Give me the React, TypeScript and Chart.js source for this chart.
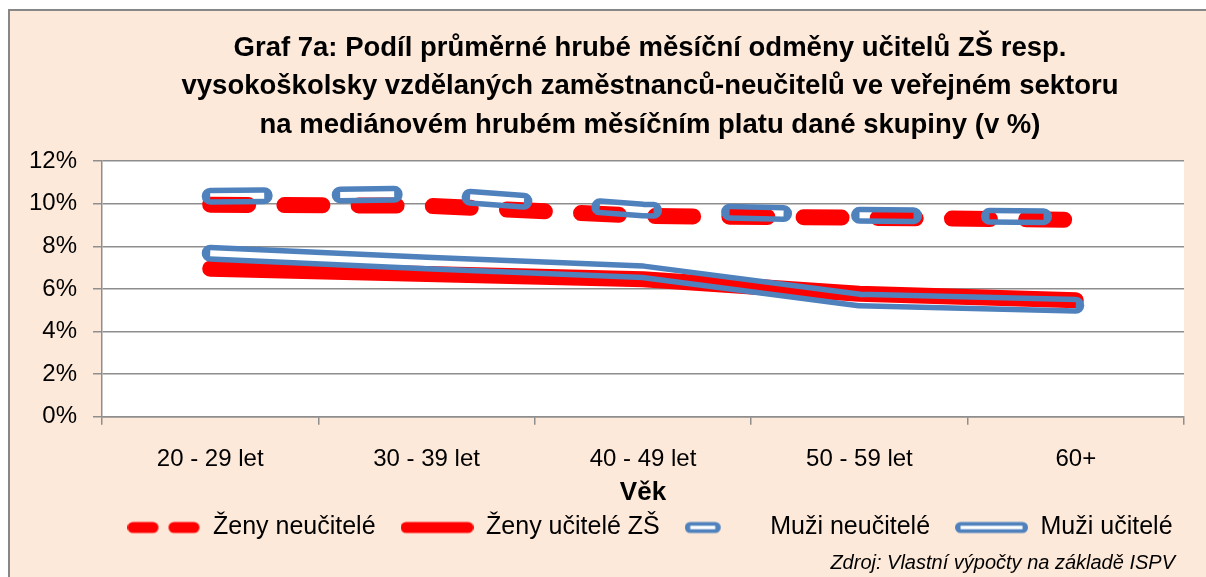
import React, { useEffect, useRef } from 'react';
import { Chart, registerables } from 'chart.js';

Chart.register(...registerables);

// ---------- data ----------
const categories = ['20 - 29 let', '30 - 39 let', '40 - 49 let', '50 - 59 let', '60+'];
const zenyNeucitele = [9.95, 9.9, 9.42, 9.34, 9.24];
const zenyUciteleZS = [6.95, 6.7, 6.45, 5.77, 5.47];
const muziNeucitele = [10.35, 10.45, 9.7, 9.45, 9.38];
const muziUcitele = [7.67, 7.22, 6.8, 5.48, 5.23];
const seriesNames = ['Ženy neučitelé', 'Ženy učitelé ZŠ', 'Muži neučitelé', 'Muži učitelé'];
const yMin = 0;
const yMax = 12;
const yStep = 2;
const titleLines = [
  'Graf 7a: Podíl průměrné hrubé měsíční odměny učitelů ZŠ resp.',
  'vysokoškolsky vzdělaných zaměstnanců-neučitelů ve veřejném sektoru',
  'na mediánovém hrubém měsíčním platu dané skupiny (v %)',
];
const xAxisTitle = 'Věk';
const sourceNote = 'Zdroj: Vlastní výpočty na základě ISPV';

// ---------- styles ----------
const RED = '#FF0000';
const BLUE = '#4F81BD';
const GRID = '#8E8E8E';
const BG = '#FDE9D9';
const FONT = "'Liberation Sans', Arial, sans-serif";
const CANVAS_W = 1280;
const CANVAS_H = 566;

function makeSwatch(color: string, dash: number[], double: boolean) {
  const c = document.createElement('canvas');
  c.width = 73;
  c.height = 20;
  const g = c.getContext('2d')!;
  g.lineCap = 'round';
  g.strokeStyle = color;
  g.lineWidth = 11;
  g.setLineDash(dash);
  g.beginPath();
  g.moveTo(5.5, 10);
  g.lineTo(67.5, 10);
  g.stroke();
  if (double) {
    g.lineCap = 'butt';
    g.strokeStyle = '#FFFFFF';
    g.lineWidth = 3.5;
    g.beginPath();
    g.moveTo(5.5, 10);
    g.lineTo(67.5, 10);
    g.stroke();
  }
  return c;
}

const plotBgPlugin = {
  id: 'plotBg',
  beforeDraw(chart: any) {
    const { ctx, chartArea } = chart;
    ctx.save();
    ctx.fillStyle = '#FFFFFF';
    ctx.fillRect(chartArea.left, chartArea.top, chartArea.right - chartArea.left, chartArea.bottom - chartArea.top);
    ctx.restore();
  },
};

const doubleLinePlugin = {
  id: 'doubleLine',
  afterDatasetsDraw(chart: any) {
    const { ctx } = chart;
    chart.data.datasets.forEach((ds: any, i: number) => {
      const dl = ds.doubleLine;
      if (!dl || !chart.isDatasetVisible(i)) return;
      const meta = chart.getDatasetMeta(i);
      const pts = meta.data.map((p: any) => ({ x: p.x, y: p.y }));
      const off = document.createElement('canvas');
      off.width = chart.canvas.width;
      off.height = chart.canvas.height;
      const o = off.getContext('2d')!;
      const r = chart.currentDevicePixelRatio || 1;
      o.setTransform(r, 0, 0, r, 0, 0);
      const path = () => {
        o.beginPath();
        pts.forEach((p: any, k: number) => (k ? o.lineTo(p.x, p.y) : o.moveTo(p.x, p.y)));
      };
      o.lineJoin = 'round';
      o.lineCap = 'round';
      o.setLineDash(dl.dash);
      o.strokeStyle = ds.borderColor;
      o.lineWidth = dl.outer;
      path();
      o.stroke();
      o.globalCompositeOperation = 'destination-out';
      o.lineCap = 'butt';
      o.lineWidth = dl.inner;
      path();
      o.stroke();
      ctx.save();
      ctx.setTransform(1, 0, 0, 1, 0, 0);
      ctx.drawImage(off, 0, 0);
      ctx.restore();
    });
  },
};

export default function App() {
  const canvasRef = useRef<HTMLCanvasElement | null>(null);

  useEffect(() => {
    if (!canvasRef.current) return;
    const swatches = [
      makeSwatch(RED, [20, 21], false),
      makeSwatch(RED, [], false),
      makeSwatch(BLUE, [25, 100], true),
      makeSwatch(BLUE, [], true),
    ];
    const chart = new Chart(canvasRef.current, {
      type: 'line',
      data: {
        labels: categories,
        datasets: [
          {
            label: seriesNames[0],
            data: zenyNeucitele,
            borderColor: RED,
            backgroundColor: RED,
            borderWidth: 16,
            borderDash: [38, 36.2],
            borderCapStyle: 'round',
            borderJoinStyle: 'round',
            pointRadius: 0,
            fill: false,
            tension: 0,
          },
          {
            label: seriesNames[1],
            data: zenyUciteleZS,
            borderColor: RED,
            backgroundColor: RED,
            borderWidth: 16,
            borderCapStyle: 'round',
            borderJoinStyle: 'round',
            pointRadius: 0,
            fill: false,
            tension: 0,
          },
          {
            label: seriesNames[2],
            data: muziNeucitele,
            borderColor: BLUE,
            backgroundColor: BLUE,
            showLine: false,
            pointRadius: 0,
            fill: false,
            doubleLine: { outer: 17, inner: 6, dash: [54, 76] },
          } as any,
          {
            label: seriesNames[3],
            data: muziUcitele,
            borderColor: BLUE,
            backgroundColor: BLUE,
            showLine: false,
            pointRadius: 0,
            fill: false,
            doubleLine: { outer: 17, inner: 6, dash: [] },
          } as any,
        ],
      },
      options: {
        responsive: false,
        animation: false,
        layout: { padding: { left: 0, right: 0, top: 0, bottom: 27 } },
        font: { family: FONT },
        plugins: {
          title: {
            display: true,
            text: titleLines,
            color: '#000000',
            font: { family: FONT, size: 27.5, weight: 'bold', lineHeight: 1.4 },
            padding: { top: 17.75, bottom: 16.75 },
          },
          legend: {
            display: true,
            position: 'bottom',
            labels: {
              usePointStyle: true,
              pointStyleWidth: 73,
              padding: 25,
              color: '#000000',
              font: { family: FONT, size: 25 },
              generateLabels: (ch: any) =>
                ch.data.datasets.map((ds: any, i: number) => ({
                  text: ds.label,
                  pointStyle: swatches[i],
                  fillStyle: 'rgba(0,0,0,0)',
                  strokeStyle: 'rgba(0,0,0,0)',
                  lineWidth: 0,
                  hidden: !ch.isDatasetVisible(i),
                  datasetIndex: i,
                  fontColor: '#000000',
                })),
            },
          },
          tooltip: { enabled: false },
        },
        scales: {
          x: {
            type: 'category',
            offset: true,
            grid: {
              display: true,
              drawOnChartArea: false,
              drawTicks: true,
              tickLength: 8,
              color: GRID,
              lineWidth: 1.5,
              offset: true,
            },
            border: { display: true, color: GRID, width: 1.5 },
            ticks: { color: '#000000', font: { family: FONT, size: 24 }, padding: 20.6, maxRotation: 0 },
            title: {
              display: true,
              text: xAxisTitle,
              color: '#000000',
              font: { family: FONT, size: 26, weight: 'bold' },
              padding: { top: -18, bottom: -18 },
            },
          },
          y: {
            type: 'linear',
            position: 'left',
            min: yMin,
            max: yMax,
            afterFit: (s: any) => {
              s.width = 92;
            },
            grid: { color: GRID, lineWidth: 1.5, tickLength: 9, drawTicks: true },
            border: { display: true, color: GRID, width: 1.5 },
            ticks: {
              stepSize: yStep,
              color: '#000000',
              font: { family: FONT, size: 24 },
              padding: 16,
              callback: (v: any) => `${v}%`,
            },
          },
          y2: {
            type: 'linear',
            position: 'right',
            display: true,
            min: yMin,
            max: yMax,
            afterFit: (s: any) => {
              s.width = CANVAS_W - 1174;
            },
            grid: { display: false, drawTicks: false },
            border: { display: false },
            ticks: { display: false },
          },
        },
      } as any,
      plugins: [plotBgPlugin, doubleLinePlugin],
    });
    return () => chart.destroy();
  }, []);

  return (
    <div
      style={{
        position: 'fixed',
        left: 8,
        top: 9,
        right: 0,
        bottom: 0,
        background: BG,
        borderLeft: '2px solid #878787',
        borderTop: '2px solid #878787',
        overflow: 'hidden',
      }}
    >
      <canvas
        ref={canvasRef}
        width={CANVAS_W}
        height={CANVAS_H}
        style={{ position: 'absolute', left: 0, top: 0, display: 'block' }}
      />
      <div
        style={{
          position: 'absolute',
          right: 31,
          top: 539,
          fontFamily: FONT,
          fontStyle: 'italic',
          fontSize: 20,
          lineHeight: '24px',
          color: '#000000',
          whiteSpace: 'nowrap',
        }}
      >
        {sourceNote}
      </div>
    </div>
  );
}
